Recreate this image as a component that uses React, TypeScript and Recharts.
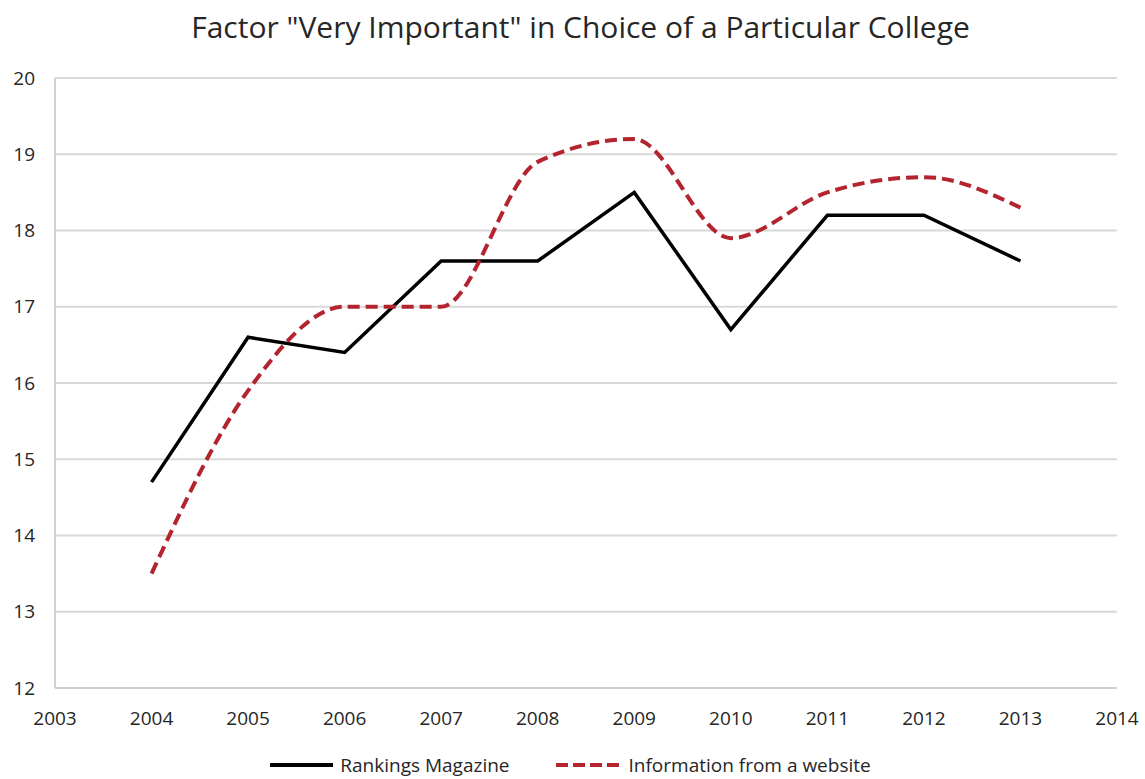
import React from "react";
import { LineChart, Line, XAxis, YAxis, CartesianGrid, Legend } from "recharts";

// Survey years and share of respondents rating each factor "very important"
const years = [2004, 2005, 2006, 2007, 2008, 2009, 2010, 2011, 2012, 2013];
const rankingsMagazine = [14.7, 16.6, 16.4, 17.6, 17.6, 18.5, 16.7, 18.2, 18.2, 17.6];
const websiteInfo = [13.5, 15.9, 17.0, 17.0, 18.9, 19.2, 17.9, 18.5, 18.7, 18.3];
const xTicks = [2003, 2004, 2005, 2006, 2007, 2008, 2009, 2010, 2011, 2012, 2013, 2014];
const yTicks = [12, 13, 14, 15, 16, 17, 18, 19, 20];
const seriesOrder = ["Rankings Magazine", "Information from a website"];

const data = years.map((year, i) => ({
  year,
  rankings: rankingsMagazine[i],
  website: websiteInfo[i],
}));

const FONT = "'Open Sans', sans-serif";
const TEXT = "#262626";
const RED = "#B3242E";

const LegendContent = (props: any) => {
  const items = [...(props.payload || [])].sort(
    (a: any, b: any) => seriesOrder.indexOf(a.value) - seriesOrder.indexOf(b.value)
  );
  return (
    <div
      style={{
        display: "flex",
        justifyContent: "center",
        gap: 46,
        fontFamily: FONT,
        fontSize: 19,
        color: TEXT,
        paddingTop: 6,
        paddingLeft: 24,
      }}
    >
      {items.map((it: any) => {
        const dashed = !!(it.payload && it.payload.strokeDasharray);
        const w = dashed ? 68 : 63;
        return (
          <div key={it.value} style={{ display: "flex", alignItems: "center" }}>
            <svg width={w} height={10} style={{ marginRight: dashed ? 5 : 7 }}>
              <line
                x1={0}
                y1={5}
                x2={w}
                y2={5}
                stroke={it.color}
                strokeWidth={4}
                strokeDasharray={dashed ? "12 5" : undefined}
              />
            </svg>
            <span>{it.value}</span>
          </div>
        );
      })}
    </div>
  );
};

export default function App() {
  return (
    <div style={{ position: "absolute", left: 0, top: 0, width: 1145, height: 779, background: "#fff" }}>
      <div
        style={{
          position: "absolute",
          top: 6,
          left: 0,
          width: 1145,
          textAlign: "center",
          fontFamily: FONT,
          fontSize: 30,
          color: TEXT,
          paddingLeft: 16,
          boxSizing: "border-box",
        }}
      >
        Factor "Very Important" in Choice of a Particular College
      </div>
      <LineChart width={1145} height={779} data={data} margin={{ top: 78, right: 28, bottom: 0, left: 0 }}>
        <CartesianGrid vertical={false} stroke="#d9d9d9" strokeWidth={2} />
        <XAxis
          dataKey="year"
          type="number"
          domain={[2003, 2014]}
          ticks={xTicks}
          tickLine={false}
          tickSize={0}
          axisLine={{ stroke: "#d0d0d0", strokeWidth: 2 }}
          tick={{ fill: TEXT, fontSize: 19, fontFamily: FONT }}
          tickMargin={24}
          height={58}
        />
        <YAxis
          domain={[12, 20]}
          ticks={yTicks}
          tickLine={false}
          tickSize={0}
          axisLine={{ stroke: "#d0d0d0", strokeWidth: 2 }}
          tick={{ fill: TEXT, fontSize: 19, fontFamily: FONT }}
          tickMargin={20}
          width={55}
        />
        <Legend verticalAlign="bottom" height={33} content={<LegendContent />} />
        <Line
          type="linear"
          dataKey="rankings"
          name="Rankings Magazine"
          stroke="#000000"
          strokeWidth={3.5}
          dot={false}
          isAnimationActive={false}
        />
        <Line
          type="monotone"
          dataKey="website"
          name="Information from a website"
          stroke={RED}
          strokeWidth={4}
          strokeDasharray="12 6"
          dot={false}
          isAnimationActive={false}
        />
      </LineChart>
    </div>
  );
}
